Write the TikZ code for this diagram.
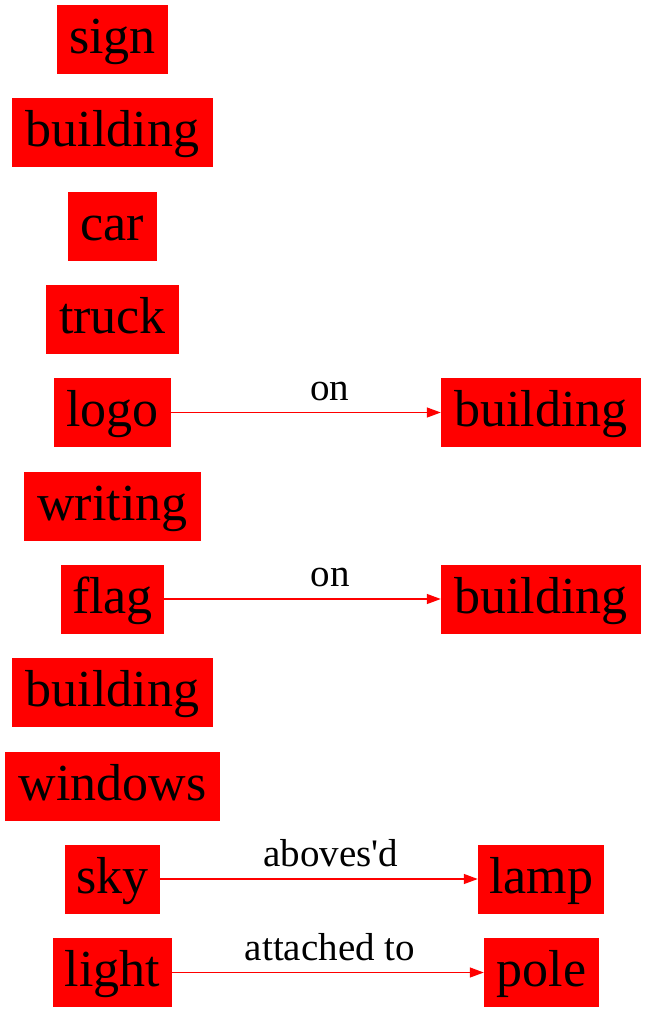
\documentclass[tikz,border=0pt]{standalone}
\usepackage{fontspec}
\setmainfont{Liberation Serif}[Ligatures=TeXOff]
\usetikzlibrary{arrows.meta}
\begin{document}
\begin{tikzpicture}[x=1pt,y=-1pt,
  box/.style={fill=red, draw=none, inner sep=0pt, minimum height=69pt,
    font=\fontsize{52}{60}\selectfont, text height=37pt, text depth=9pt},
  rel/.style={draw=red, line width=1.3pt, -{Triangle[length=14pt,width=10pt]}},
  lab/.style={font=\fontsize{39}{46}\selectfont, anchor=base, yshift=12.5pt, inner sep=0pt}]
\useasboundingbox (0,0) rectangle (647,1013);
\node[box, minimum width=111pt] (sign) at (112.5,39.5) {sign};
\node[box, minimum width=201pt] (b1) at (112.5,132.5) {building};
\node[box, minimum width=89pt] (car) at (112.5,226) {car};
\node[box, minimum width=133pt] (truck) at (112.5,319.5) {truck};
\node[box, minimum width=117pt] (logo) at (112.5,412.5) {logo};
\node[box, minimum width=177pt] (writing) at (112.5,506) {writing};
\node[box, minimum width=103pt] (flag) at (112.5,599) {flag};
\node[box, minimum width=201pt] (b2) at (112.5,692.5) {building};
\node[box, minimum width=215pt] (windows) at (112.5,786) {windows};
\node[box, minimum width=95pt] (sky) at (112.5,879) {sky};
\node[box, minimum width=119pt] (light) at (112.5,972.5) {light};
\node[box, minimum width=200pt] (rb1) at (541,412.5) {building};
\node[box, minimum width=200pt] (rb2) at (541,599) {building};
\node[box, minimum width=126pt] (lamp) at (541,879) {lamp};
\node[box, minimum width=115pt] (pole) at (541.5,972.5) {pole};
\draw[rel] (logo) -- node[lab, pos=0.589] {on} (rb1);
\draw[rel] (flag) -- node[lab, pos=0.6] {on} (rb2);
\draw[rel] (sky) -- node[lab, pos=0.538] {aboves'd} (lamp);
\draw[rel] (light) -- node[lab, pos=0.506] {attached to} (pole);
\end{tikzpicture}
\end{document}
